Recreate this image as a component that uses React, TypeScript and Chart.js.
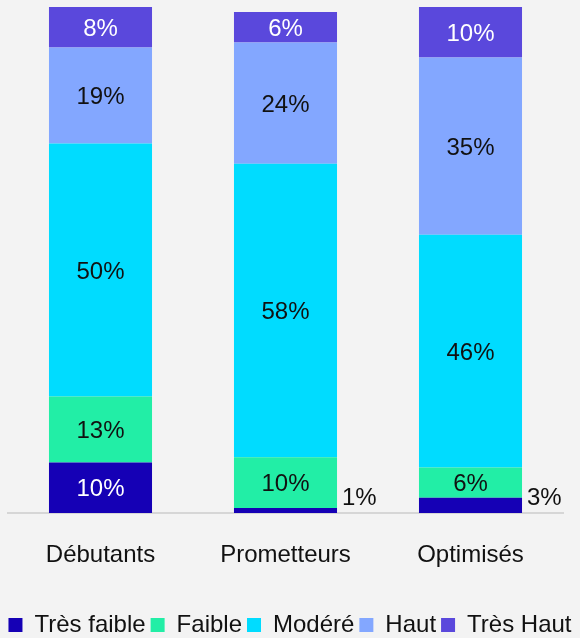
import React, { useEffect, useRef } from "react";
import { Chart, registerables } from "chart.js";

Chart.register(...registerables);

const categories = ["Débutants", "Prometteurs", "Optimisés"];
const seriesNames = ["Très faible", "Faible", "Modéré", "Haut", "Très Haut"];
const tresFaible = [10, 1, 3];
const faible = [13, 10, 6];
const modere = [50, 58, 46];
const haut = [19, 24, 35];
const tresHaut = [8, 6, 10];
const seriesValues = [tresFaible, faible, modere, haut, tresHaut];
const seriesColors = ["#1500B5", "#22EEA6", "#00DCFF", "#83A7FF", "#5A48DC"];
const labelColors = ["#ffffff", "#111111", "#111111", "#111111", "#ffffff"];

const FONT = "'Liberation Sans', Arial, sans-serif";

const barLabels = {
  id: "barLabels",
  afterDatasetsDraw(chart: any) {
    const ctx = chart.ctx;
    ctx.save();
    ctx.font = `24px ${FONT}`;
    chart.data.datasets.forEach((ds: any, di: number) => {
      const meta = chart.getDatasetMeta(di);
      meta.data.forEach((el: any, i: number) => {
        const v = ds.data[i];
        const p = el.getProps(["x", "y", "base", "width"], true);
        if (v < 5) {
          ctx.fillStyle = "#111111";
          ctx.textAlign = "left";
          ctx.textBaseline = "middle";
          ctx.fillText(v + "%", p.x + p.width / 2 + 5, p.base - 15);
        } else {
          ctx.fillStyle = labelColors[di];
          ctx.textAlign = "center";
          ctx.textBaseline = "middle";
          ctx.fillText(v + "%", p.x, (p.y + p.base) / 2 + 2);
        }
      });
    });
    ctx.restore();
  },
};

const bgPlugin = {
  id: "bg",
  beforeDraw(chart: any) {
    const ctx = chart.ctx;
    ctx.save();
    ctx.fillStyle = "#F3F3F3";
    ctx.fillRect(0, 0, chart.width, chart.height);
    ctx.restore();
  },
};

export default function App() {
  const ref = useRef<HTMLCanvasElement | null>(null);
  useEffect(() => {
    if (!ref.current) return;
    const chart = new Chart(ref.current, {
      type: "bar",
      data: {
        labels: categories,
        datasets: seriesNames.map((name, i) => ({
          label: name,
          data: seriesValues[i],
          backgroundColor: seriesColors[i],
          borderWidth: 0,
          categoryPercentage: 1,
          barPercentage: 0.557,
        })),
      },
      options: {
        animation: false,
        responsive: false,
        maintainAspectRatio: false,
        layout: { padding: { top: 7, left: 0, right: 0, bottom: 0 } },
        plugins: {
          tooltip: { enabled: false },
          legend: {
            position: "bottom",
            labels: {
              boxWidth: 14,
              boxHeight: 14,
              padding: 5,
              color: "#111111",
              font: { size: 24, family: FONT },
            },
          },
        },
        scales: {
          x: {
            stacked: true,
            grid: { display: false, drawTicks: false },
            border: { display: true, color: "#D6D6D6", width: 2 },
            ticks: { color: "#111111", padding: 28, font: { size: 24, family: FONT } },
            afterFit: (s: any) => {
              s.height = 95;
            },
          },
          y: {
            stacked: true,
            min: 0,
            max: 100,
            position: "left",
            grid: { display: false, drawTicks: false },
            border: { display: false },
            ticks: { display: false },
            afterFit: (s: any) => {
              s.width = 8;
            },
          },
          yR: {
            min: 0,
            max: 100,
            position: "right",
            grid: { display: false, drawTicks: false },
            border: { display: false },
            ticks: { display: false },
            afterFit: (s: any) => {
              s.width = 17;
            },
          },
        },
      },
      plugins: [bgPlugin, barLabels],
    });
    return () => chart.destroy();
  }, []);
  return (
    <div
      style={{
        position: "absolute",
        left: 0,
        top: 0,
        width: 580,
        height: 638,
        overflow: "hidden",
        background: "#F3F3F3",
      }}
    >
      <canvas ref={ref} width={580} height={647} style={{ display: "block" }} />
    </div>
  );
}
